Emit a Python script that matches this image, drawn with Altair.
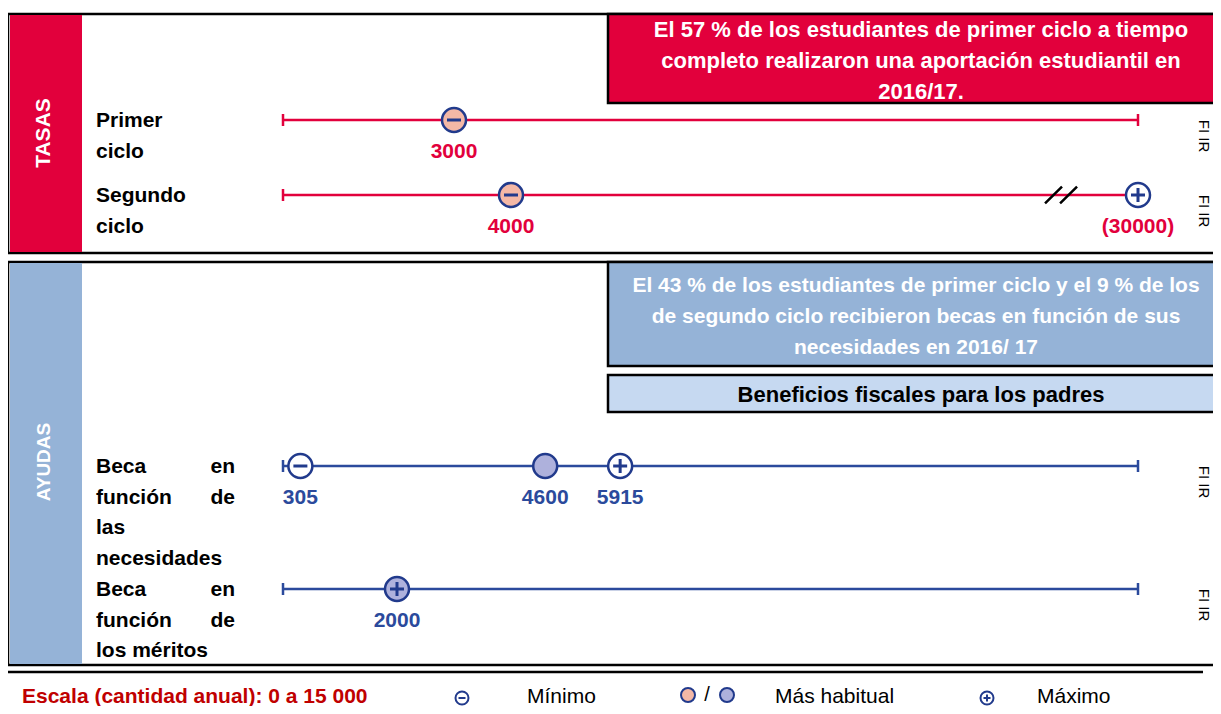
import altair as alt

# ---------------- data ----------------
row_ids = [0, 1, 2, 3]
row_section = ["tasas", "tasas", "ayudas", "ayudas"]
row_label_left = [["Primer", "ciclo"], ["Segundo", "ciclo"],
                  ["Beca", "función", "las", "necesidades"],
                  ["Beca", "función", "los méritos"]]
row_label_right = [["", ""], ["", ""], ["en", "de", "", ""], ["en", "de", ""]]
row_country = ["FI IR", "FI IR", "FI IR", "FI IR"]

scale_min = 0
scale_max = 15000

end_tick_rows = [0, 0, 1, 2, 2, 3, 3]
end_tick_values = [0, 15000, 0, 0, 15000, 0, 15000]

marker_rows = [0, 1, 1, 2, 2, 2, 3]
marker_values = [3000, 4000, 15000, 305, 4600, 5915, 2000]
marker_labels = ["3000", "4000", "(30000)", "305", "4600", "5915", "2000"]
marker_signs = ["min", "min", "max", "min", "none", "max", "max"]
marker_habitual = [True, True, False, False, True, False, True]

break_rows = [1]
break_values = [13650]

tasas_title = "TASAS"
ayudas_title = "AYUDAS"
tasas_note = ["El 57 % de los estudiantes de primer ciclo a tiempo",
              "completo realizaron una aportación estudiantil en",
              "2016/17."]
ayudas_note = ["El 43 % de los estudiantes de primer ciclo y el 9 % de los",
               "de segundo ciclo recibieron becas en función de sus",
               "necesidades en 2016/ 17"]
fiscal_note = "Beneficios fiscales para los padres"
legend_scale = "Escala (cantidad anual): 0 a 15 000"
legend_min = "Mínimo"
legend_hab = "Más habitual"
legend_max = "Máximo"

# ---------------- styles ----------------
RED = "#E2003C"
BLUE_SIDE = "#95B3D7"
LIGHT = "#C6D9F1"
NAVY = "#213A8C"
BLUE_LINE = "#2B4A9C"
SALMON = "#F4B8A6"
LAVENDER = "#AEB1DC"
LEG_RED = "#C00000"
ARIAL = "Liberation Sans, Arial, sans-serif"
MINUS = "M -1 0 L 1 0"
PLUS = "M -1 0 L 1 0 M 0 -1 L 0 1"
VTICK = "M 0 -1 L 0 1"
BREAK = "M -1 0.53 L 0.06 -0.53 M -0.06 0.53 L 1 -0.53"

# ---------------- tables ----------------
rows_tbl = [
    {"row": r, "section": s, "left": l, "right": rr, "code": c,
     "start": scale_min, "end": scale_max}
    for r, s, l, rr, c in zip(row_ids, row_section, row_label_left,
                              row_label_right, row_country)
]
ticks_tbl = [{"row": r, "value": v, "section": row_section[r]}
             for r, v in zip(end_tick_rows, end_tick_values)]
markers_tbl = [
    {"row": r, "value": v, "label": lab, "sign": sg,
     "section": row_section[r],
     "fillkey": (row_section[r] + "_hab") if h else "white"}
    for r, v, lab, sg, h in zip(marker_rows, marker_values, marker_labels,
                                marker_signs, marker_habitual)
]
signs_tbl = [m for m in markers_tbl if m["sign"] != "none"]
break_tbl = [{"row": r, "value": v} for r, v in zip(break_rows, break_values)]

one = alt.Data(values=[{"k": 0}])

xscale = alt.Scale(domain=[scale_min, scale_max], range=[275, 1130], nice=False, zero=False)
Y = alt.Y("row:Q", scale=alt.Scale(domain=row_ids, range=[112, 187, 458, 581],
                                    nice=False, zero=False), axis=None)
sec_line = alt.Color("section:N", scale=alt.Scale(domain=["tasas", "ayudas"],
                                                  range=[RED, BLUE_LINE]), legend=None)
sec_text = alt.Color("section:N", scale=alt.Scale(domain=["tasas", "ayudas"],
                                                  range=[RED, NAVY]), legend=None)


def box(x1, x2, y1, y2, fill, stroke=None, sw=0):
    kw = dict(fill=fill, strokeWidth=sw)
    if stroke:
        kw["stroke"] = stroke
    return alt.Chart(one).mark_rect(**kw).encode(
        x=alt.value(x1), x2=alt.value(x2), y=alt.value(y1), y2=alt.value(y2))


def txt(text, x, y, size, color="black", weight="normal", font=ARIAL,
        align="center", angle=0, lh=None):
    kw = dict(text=text, fontSize=size, color=color, fontWeight=weight, font=font,
              align=align, baseline="middle")
    if angle:
        kw["angle"] = angle
    if lh:
        kw["lineHeight"] = lh
    return alt.Chart(one).mark_text(**kw).encode(x=alt.value(x), y=alt.value(y))


def sym(shape, x, y, size, fill=None, stroke=NAVY, sw=2):
    kw = dict(shape=shape, size=size, strokeWidth=sw, stroke=stroke, opacity=1)
    if fill:
        kw["fill"] = fill
        kw["filled"] = True
    else:
        kw["filled"] = False
    return alt.Chart(one).mark_point(**kw).encode(x=alt.value(x), y=alt.value(y))


layers = []
# panels
layers.append(box(0, 1225, 6, 245, "white", "black", 2.5))
layers.append(box(2, 74, 7, 244, RED))
layers.append(box(600, 1225, 6, 95, RED, "black", 2.5))
layers.append(box(0, 1225, 254, 657, "white", "black", 2.5))
layers.append(box(2, 74, 255, 656, BLUE_SIDE))
layers.append(box(600, 1225, 254, 358, BLUE_SIDE, "black", 2.5))
layers.append(box(600, 1225, 367, 404, LIGHT, "black", 2.5))
layers.append(alt.Chart(one).mark_rule(color="black", strokeWidth=2.5).encode(
    x=alt.value(0), x2=alt.value(1195), y=alt.value(664)))

# panel texts (multi-line: first line sits at y)
layers.append(txt(tasas_title, 36, 125, 21, "white", "bold", angle=270))
layers.append(txt(ayudas_title, 36, 454, 19, "white", "bold", angle=270))
layers.append(txt(tasas_note, 913, 22, 22, "white", "bold", lh=31))
layers.append(txt(ayudas_note, 908, 278, 21, "white", "bold", lh=31))
layers.append(txt(fiscal_note, 913, 387, 22, "black", "bold"))

# scale lines
rows_chart = alt.Chart(alt.Data(values=rows_tbl))
layers.append(rows_chart.mark_rule(strokeWidth=2.5).encode(
    x=alt.X("start:Q", scale=xscale, axis=None), x2="end:Q", y=Y, color=sec_line))
layers.append(alt.Chart(alt.Data(values=ticks_tbl)).mark_point(
    shape=VTICK, size=144, strokeWidth=2.5, filled=False, opacity=1).encode(
    x=alt.X("value:Q", scale=xscale, axis=None), y=Y, color=sec_line))
layers.append(alt.Chart(alt.Data(values=break_tbl)).mark_point(
    shape=BREAK, size=1024, strokeWidth=2.5, filled=False, opacity=1, color="black").encode(
    x=alt.X("value:Q", scale=xscale, axis=None), y=Y))

# markers
mk = alt.Chart(alt.Data(values=markers_tbl))
layers.append(mk.mark_point(shape="circle", filled=True, stroke=NAVY, strokeWidth=2.5,
                            opacity=1).encode(
    x=alt.X("value:Q", scale=xscale, axis=None), y=Y,
    fill=alt.Fill("fillkey:N", scale=alt.Scale(domain=["tasas_hab", "ayudas_hab", "white"],
                                                range=[SALMON, LAVENDER, "white"]), legend=None),
    size=alt.Size("sign:N", scale=alt.Scale(domain=["min", "max", "none"],
                                            range=[576, 576, 700]), legend=None)))
layers.append(alt.Chart(alt.Data(values=signs_tbl)).mark_point(
    size=196, filled=False, strokeWidth=3, opacity=1, color=NAVY).encode(
    x=alt.X("value:Q", scale=xscale, axis=None), y=Y,
    shape=alt.Shape("sign:N", scale=alt.Scale(domain=["min", "max"], range=[MINUS, PLUS]),
                    legend=None)))
layers.append(mk.mark_text(dy=32, font=ARIAL, fontSize=21, fontWeight="bold").encode(
    x=alt.X("value:Q", scale=xscale, axis=None), y=Y, text="label:N", color=sec_text))

# row labels
layers.append(rows_chart.mark_text(align="left", baseline="alphabetic", dy=7, font=ARIAL,
                                   fontSize=21, fontWeight="bold", lineHeight=30.5,
                                   color="black").encode(
    x=alt.value(88), y=Y, text="left:N"))
layers.append(rows_chart.mark_text(align="right", baseline="alphabetic", dy=7, font=ARIAL,
                                   fontSize=21, fontWeight="bold", lineHeight=30.5,
                                   color="black").encode(
    x=alt.value(227), y=Y, text="right:N"))
layers.append(rows_chart.mark_text(angle=90, dx=16, font=ARIAL, fontSize=15,
                                   color="black", baseline="middle").encode(
    x=alt.value(1196), y=Y, text="code:N"))

# legend
layers.append(txt(legend_scale, 14, 689, 21, LEG_RED, "bold", align="left"))
layers.append(sym("circle", 454, 690, 169, fill="white", sw=2))
layers.append(sym(MINUS, 454, 690, 49, sw=2))
layers.append(txt(legend_min, 519, 689, 21, align="left"))
layers.append(sym("circle", 680, 687, 196, fill=SALMON, sw=2))
layers.append(txt("/", 699, 687, 20))
layers.append(sym("circle", 719, 687, 196, fill=LAVENDER, sw=2))
layers.append(txt(legend_hab, 767, 689, 21, align="left"))
layers.append(sym("circle", 979, 690, 169, fill="white", sw=2))
layers.append(sym(PLUS, 979, 690, 49, sw=2))
layers.append(txt(legend_max, 1029, 689, 21, align="left"))

chart = alt.layer(*layers).properties(
    width=1205, height=698, padding=0, background="white",
    autosize=alt.AutoSizeParams(type="none")
).configure_view(strokeWidth=0)

chart.save("out.html", embed_options={"renderer": "svg", "actions": False})
